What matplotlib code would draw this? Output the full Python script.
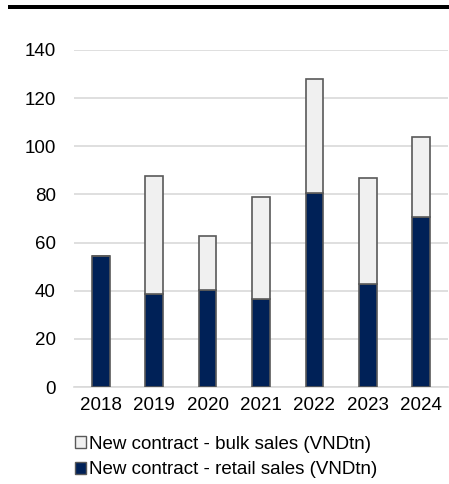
import numpy as np
import matplotlib.pyplot as plt
from matplotlib.patches import Patch, Rectangle

years = ["2018", "2019", "2020", "2021", "2022", "2023", "2024"]
retail = [54.5, 38.5, 40.3, 36.4, 80.6, 42.7, 70.5]
bulk = [0.0, 49.3, 22.6, 42.7, 47.4, 44.1, 33.4]
yticks = [0, 20, 40, 60, 80, 100, 120, 140]

navy = "#002157"
light = "#F0F0F0"
edge = "#595959"

plt.rcParams["font.family"] = ["Liberation Sans", "DejaVu Sans"]

fig = plt.figure(figsize=(4.49, 4.84), dpi=100)
ax = fig.add_axes([74 / 449, 97 / 484, 374 / 449, 337 / 484])

x = np.arange(len(years))
ax.bar(x, retail, width=0.33, color=navy, edgecolor=edge, linewidth=1.2, zorder=3)
ax.bar(x, bulk, width=0.33, bottom=retail, color=light, edgecolor=edge,
       linewidth=1.2, zorder=3)

ax.set_xlim(-0.5, len(years) - 0.5)
ax.set_ylim(0, 140)
ax.set_yticks(yticks)
ax.set_xticks(x)
ax.set_xticklabels(years)
ax.tick_params(axis="both", length=0, labelsize=13.5, colors="black")
ax.tick_params(axis="y", pad=13)
ax.tick_params(axis="x", pad=7)
ax.grid(axis="y", color="#D9D9D9", linewidth=1.2, zorder=0)
for s in ["top", "right", "left"]:
    ax.spines[s].set_visible(False)
ax.spines["bottom"].set_color("#D9D9D9")
ax.spines["bottom"].set_linewidth(1.2)

# thick black rule at the top
fig.add_artist(Rectangle((8 / 449, 1 - 9.3 / 484), 441 / 449, 4 / 484,
                         transform=fig.transFigure, color="black", lw=0))

handles = [Patch(facecolor=light, edgecolor=edge, linewidth=1.0),
           Patch(facecolor=navy, edgecolor=edge, linewidth=1.0)]
labels = ["New contract - bulk sales (VNDtn)",
          "New contract - retail sales (VNDtn)"]
fig.legend(handles, labels, loc="upper left", bbox_to_anchor=(75 / 449, 1 - 436 / 484),
           frameon=False, fontsize=13.5, handlelength=0.6, handleheight=0.6,
           handletextpad=0.15, labelspacing=0.45, borderaxespad=0, borderpad=0)

fig.savefig("out.png", dpi=100)
